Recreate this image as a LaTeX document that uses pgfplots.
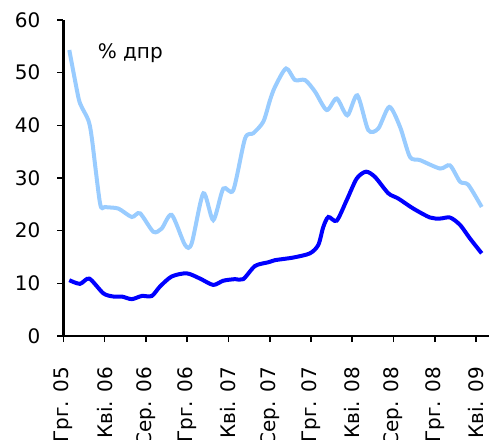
\documentclass[border=0pt]{standalone}
\usepackage{pgfplots}
\pgfplotsset{compat=1.18}
\usepackage{fontspec}
\setmainfont{DejaVu Sans}

\definecolor{lightser}{RGB}{153,204,255}
\definecolor{darkser}{RGB}{0,0,255}

\begin{document}
\begin{tikzpicture}
% 1 px of the reference = 0.5pt
\path[use as bounding box] (-31.65pt,-51.5pt) rectangle (213.35pt,168pt);
\begin{axis}[
    at={(0,0)}, anchor=south west,
    scale only axis,
    width=212.6pt, height=158pt,
    xmin=0, xmax=41.2,
    ymin=0, ymax=60,
    axis x line*=bottom,
    axis y line*=left,
    axis line style={-, line width=1.3pt},
    tick align=outside,
    major tick length=3pt,
    tick style={black, line width=0.8pt},
    xtick={0,4,...,40},
    xticklabels={Грг. 05,Кві. 06,Сер. 06,Грг. 06,Кві. 07,Сер. 07,Грг. 07,Кві. 08,Сер. 08,Грг. 08,Кві. 09},
    xticklabel style={rotate=90, anchor=east, yshift=0pt, xshift=-9pt, font=\fontsize{10}{12}\selectfont},
    ytick={0,10,...,60},
    yticklabel style={xshift=-5pt, font=\fontsize{10}{12}\selectfont},
    /pgf/number format/assume math mode=true,
    clip=false,
]

\addplot[lightser, line width=2pt, smooth, tension=0.45] coordinates {
(0.58,54.3) (1.45,45.4) (1.78,43.5) (2.42,41.0) (2.75,37.8) (3.56,25.2)
(4.04,24.5) (5.33,24.2) (6.63,22.6) (7.43,23.3) (8.72,19.8) (9.53,20.4)
(10.50,23.0) (11.79,17.3) (12.44,17.6) (13.57,27.1) (14.53,22.0) (15.50,28.0)
(16.47,27.7) (17.61,37.5) (18.41,38.5) (19.38,40.7) (20.03,44.8) (20.51,47.3)
(21.58,50.8) (22.45,48.6) (23.42,48.6) (24.39,46.4) (25.52,42.9) (26.49,45.1)
(27.52,41.9) (28.49,45.7) (29.55,39.1) (30.52,39.4) (31.59,43.5) (32.63,39.7)
(33.59,34.0) (34.56,33.4) (36.50,31.8) (37.47,32.4) (38.44,29.3) (39.24,28.7)
(40.54,24.5)
};

\addplot[darkser, line width=2pt, smooth, tension=0.45] coordinates {
(0.58,10.6) (1.62,9.9) (2.52,10.9) (3.88,8.1) (4.84,7.5) (5.66,7.5)
(6.63,7.0) (7.60,7.6) (8.57,7.6) (9.37,9.4) (10.50,11.3) (11.96,11.9)
(13.25,10.9) (14.53,9.7) (15.50,10.5) (16.64,10.8) (17.44,10.8) (18.58,13.3)
(19.86,14.0) (20.51,14.4) (22.29,14.9) (23.90,15.7) (24.71,17.3) (25.19,20.7)
(25.68,22.6) (26.49,21.9) (27.46,25.8) (28.43,29.9) (29.33,31.2) (30.20,30.2)
(31.49,27.1) (32.46,26.1) (33.91,24.2) (35.53,22.5) (36.50,22.3) (37.47,22.5)
(38.44,21.1) (39.41,18.5) (40.54,15.7)
};

\node[anchor=west, font=\fontsize{10}{12}\selectfont, inner sep=0pt] at (axis cs:3.3,53.7) {\% дпр};

\end{axis}
\end{tikzpicture}
\end{document}
